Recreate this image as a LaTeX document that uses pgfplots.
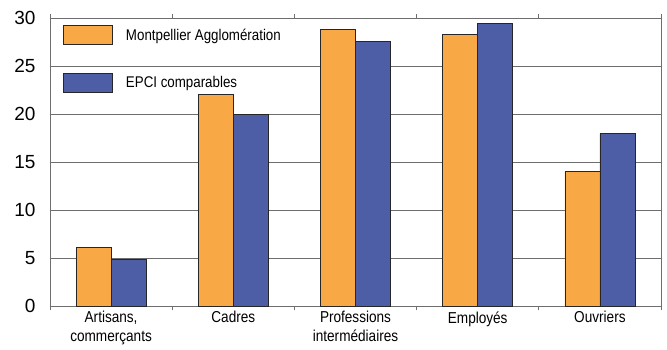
\documentclass[border=0pt]{standalone}
\usepackage{pgfplots}
\pgfplotsset{compat=1.18}
\usepackage{fontspec}
\setmainfont{Liberation Sans}
\newfontfamily\cond[FakeStretch=0.86]{Liberation Sans}
\definecolor{borange}{HTML}{F9A846}
\definecolor{bblue}{HTML}{4D5EA6}
\definecolor{gridc}{HTML}{6E6E6E}
\begin{document}
\begin{tikzpicture}[x=1pt,y=1pt]
\useasboundingbox (-50pt,-43pt) rectangle (617pt,306pt);
\begin{axis}[
  at={(0pt,0pt)}, anchor=south west,
  scale only axis, width=611pt, height=288pt,
  ybar=0pt, bar width=35pt,
  xmin=-0.5, xmax=4.5, ymin=0, ymax=30,
  xtick={0,1,2,3,4},
  xticklabels={{Artisans,\\commerçants},{Cadres},{Professions\\intermédiaires},{Employés},{Ouvriers}},
  minor xtick={-0.5,0.5,1.5,2.5,3.5,4.5},
  ytick={0,5,10,15,20,25,30},
  major tick length=0pt, minor tick length=4pt, tick align=outside,
  minor tick style={gridc, line width=0.8pt},
  ymajorgrids, major grid style={gridc, line width=0.9pt},
  axis line style={gridc, line width=0.9pt},
  /pgf/number format/assume math mode=true,
  yticklabel style={font=\fontsize{19}{20}\selectfont, xshift=-11pt},
  xticklabel style={font=\cond\fontsize{15.8}{19}\selectfont, align=center, yshift=-2pt},
  legend style={draw=none, fill=none, inner sep=0pt, at={(axis description cs:0,1)}, anchor=north west, xshift=13pt, yshift=-7pt,
    font=\cond\fontsize{15.5}{18}\selectfont, row sep=28pt, nodes={inner sep=0pt, anchor=west},
    /tikz/every odd column/.append style={column sep=13pt}},
  legend cell align=left,
]
\addplot[fill=borange, draw=black!85, line width=0.8pt,
  legend image code/.code={\draw[fill=borange, draw=black!85, line width=0.8pt] (0pt,-9.5pt) rectangle (49pt,9.5pt);}]
  coordinates {(0,6.1) (1,22.0) (2,28.85) (3,28.3) (4,14.05)};
\addlegendentry{Montpellier Agglomération}
\addplot[fill=bblue, draw=black!85, line width=0.8pt,
  legend image code/.code={\draw[fill=bblue, draw=black!85, line width=0.8pt] (0pt,-9.5pt) rectangle (49pt,9.5pt);}]
  coordinates {(0,4.85) (1,20.0) (2,27.6) (3,29.45) (4,17.95)};
\addlegendentry{EPCI comparables}
\end{axis}
\end{tikzpicture}
\end{document}
